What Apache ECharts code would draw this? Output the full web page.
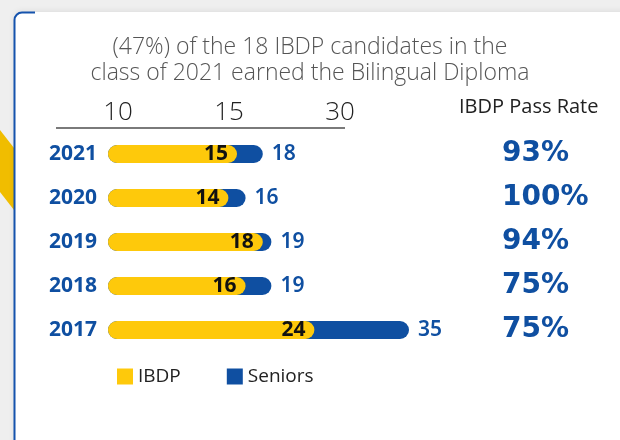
<!DOCTYPE html>
<html>
<head>
<meta charset="utf-8">
<script src="https://cdn.jsdelivr.net/npm/echarts@6/dist/echarts.min.js"></script>
<style>
html,body{margin:0;padding:0;background:#efefef;}
#chart{width:620px;height:440px;}
</style>
</head>
<body>
<div id="chart"></div>
<script>
const years = ['2021', '2020', '2019', '2018', '2017'];
const ibdp = [15, 14, 18, 16, 24];
const seniors = [18, 16, 19, 19, 35];
const passRate = ['93%', '100%', '94%', '75%', '75%'];
const topTicks = ['10', '15', '30'];
const titleText = '(47%) of the 18 IBDP candidates in the\nclass of 2021 earned the Bilingual Diploma';
const passTitle = 'IBDP Pass Rate';

const BLUE = '#0f4fa1';
const YELLOW = '#fec90b';

const chart = echarts.init(document.getElementById('chart'), null, {renderer: 'canvas'});
chart.setOption({
  backgroundColor: '#efefef',
  animation: false,
  graphic: [
    {type: 'polygon', z: 0, shape: {points: [[0, 130], [14, 148], [14, 210], [0, 192]]}, style: {fill: '#f0bd00'}},
    {type: 'rect', z: 0, shape: {x: 14, y: 12, width: 700, height: 500, r: 8},
      style: {fill: '#ffffff', shadowBlur: 6, shadowColor: 'rgba(0,0,0,0.08)', shadowOffsetY: -1}},
    {type: 'line', z: 1, shape: {x1: 14.5, y1: 20, x2: 14.5, y2: 440}, style: {stroke: '#1553ad', lineWidth: 2}},
    {type: 'arc', z: 1, shape: {cx: 22, cy: 20, r: 7.5, startAngle: Math.PI, endAngle: Math.PI * 1.5, clockwise: true},
      style: {fill: null, stroke: '#1553ad', lineWidth: 2}},
    {type: 'line', z: 1, shape: {x1: 22, y1: 12.5, x2: 35, y2: 12.5}, style: {stroke: '#1553ad', lineWidth: 2}},
    {type: 'line', z: 1, shape: {x1: 56, y1: 128, x2: 345, y2: 128}, style: {stroke: '#7a7a7a', lineWidth: 2}}
  ],
  title: [
    {text: titleText, left: 'center', top: 34, padding: 0,
      textStyle: {fontFamily: 'Open Sans', fontWeight: 300, fontSize: 23, lineHeight: 26, color: '#555'}},
    {text: passTitle, left: 459, top: 97, padding: 0,
      textStyle: {fontFamily: 'Open Sans', fontWeight: 'normal', fontSize: 20, color: '#222'}}
  ],
  legend: {
    data: ['IBDP', 'Seniors'], left: 117, top: 367, padding: 0,
    icon: 'rect', itemWidth: 16, itemHeight: 16, itemGap: 46,
    textStyle: {fontFamily: 'Open Sans', fontSize: 19, color: '#222'}
  },
  grid: [
    {left: 108, right: 168, top: 132, height: 220},
    {left: 118, width: 222, top: 92, height: 8}
  ],
  xAxis: [
    {type: 'value', gridIndex: 0, min: 0, max: 40, show: false},
    {type: 'category', gridIndex: 1, data: topTicks, boundaryGap: false, position: 'bottom',
      axisLine: {show: false}, axisTick: {show: false}, splitLine: {show: false},
      axisLabel: {margin: 0, interval: 0, fontFamily: 'Open Sans', fontWeight: 300, fontSize: 26, color: '#222'}}
  ],
  yAxis: [
    {type: 'category', gridIndex: 0, data: years, inverse: true,
      axisLine: {show: false}, axisTick: {show: false},
      axisLabel: {margin: 11, fontFamily: 'Noto Sans', fontWeight: 'bold', fontSize: 21, color: BLUE}},
    {type: 'category', gridIndex: 0, data: years, inverse: true, position: 'right',
      axisLine: {show: false}, axisTick: {show: false},
      axisLabel: {margin: 50, align: 'left', formatter: (v, i) => passRate[i],
        fontFamily: 'DejaVu Sans', fontWeight: 'bold', fontSize: 28, color: BLUE}},
    {type: 'value', gridIndex: 1, show: false}
  ],
  series: [
    {name: 'Seniors', type: 'bar', xAxisIndex: 0, yAxisIndex: 0, data: seniors,
      barWidth: 18, barGap: '-100%', itemStyle: {color: BLUE, borderRadius: 9},
      label: {show: true, position: 'right', distance: 9, fontFamily: 'Noto Sans', fontWeight: 600, fontSize: 21, color: BLUE}},
    {name: 'IBDP', type: 'bar', xAxisIndex: 0, yAxisIndex: 0, data: ibdp,
      barWidth: 18, barGap: '-100%', itemStyle: {color: YELLOW, borderRadius: 9},
      label: {show: true, position: 'insideRight', distance: 9, fontFamily: 'Noto Sans', fontWeight: 'bold', fontSize: 21, color: '#111'}}
  ]
});
</script>
</body>
</html>
